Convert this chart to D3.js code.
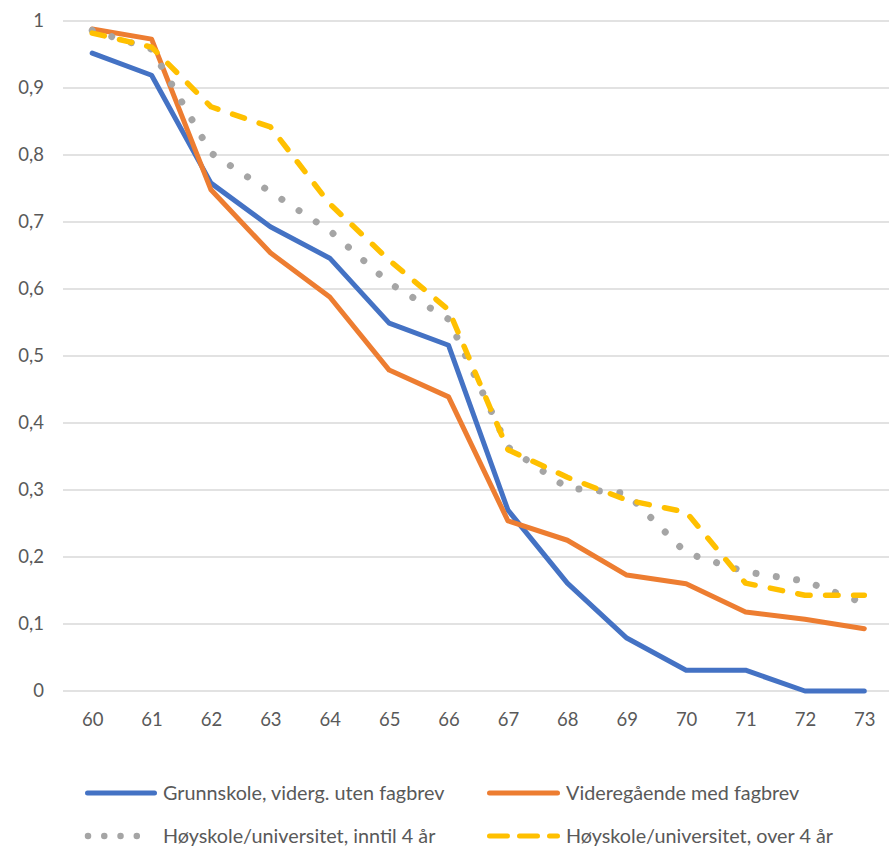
<!DOCTYPE html>
<html><head><meta charset="utf-8">
<script src="https://cdn.jsdelivr.net/npm/d3@7"></script>
<style>body{margin:0;background:#fff}svg{display:block}text{font-family:Lato,"Open Sans",sans-serif;fill:#595959}</style>
</head><body>
<script>
const ages = [60,61,62,63,64,65,66,67,68,69,70,71,72,73];
const yTicks = [0,0.1,0.2,0.3,0.4,0.5,0.6,0.7,0.8,0.9,1];
const seriesNames = ["Grunnskole, viderg. uten fagbrev","Videregående med fagbrev","Høyskole/universitet, inntil 4 år","Høyskole/universitet, over 4 år"];
const grunnskole = [0.952,0.919,0.758,0.693,0.646,0.549,0.516,0.27,0.161,0.079,0.031,0.031,0.0,0.0];
const vgsFagbrev = [0.988,0.973,0.748,0.654,0.588,0.479,0.439,0.254,0.225,0.173,0.160,0.118,0.107,0.093];
const hoyInntil4 = [0.986,0.958,0.803,0.745,0.687,0.609,0.555,0.364,0.303,0.295,0.206,0.178,0.164,0.131];
const hoyOver4 = [0.982,0.961,0.872,0.842,0.727,0.643,0.569,0.360,0.319,0.285,0.267,0.161,0.143,0.143];

const W = 889, H = 846;
const svg = d3.select("body").append("svg").attr("width", W).attr("height", H);
const x = d3.scalePoint().domain(ages).range([62.5, 894]).padding(0.5);
const y = d3.scaleLinear().domain([0, 1]).range([691, 21]);

const fmt = v => v === 0 ? "0" : v === 1 ? "1" : d3.format(".1f")(v).replace(".", ",");
const grid = svg.append("g");
grid.selectAll("line").data(yTicks).join("line")
  .attr("x1", 63).attr("x2", W).attr("y1", d => y(d)).attr("y2", d => y(d))
  .attr("stroke", "#D9D9D9").attr("stroke-width", 1.3);

const yAxis = d3.axisLeft(y).tickValues(yTicks).tickFormat(fmt).tickSize(0).tickPadding(0);
const ga = svg.append("g").attr("transform", "translate(44,0)").call(yAxis);
ga.select(".domain").remove();
ga.selectAll("text").attr("font-size", 18.5).style("font-family", "Lato").attr("fill", "#595959");

const xAxis = d3.axisBottom(x).tickSize(0).tickPadding(0);
const gx = svg.append("g").attr("transform", "translate(0,713)").call(xAxis);
gx.select(".domain").remove();
gx.selectAll("text").attr("font-size", 18.5).style("font-family", "Lato").attr("fill", "#595959").attr("dy", "0.71em");

const styles = [
  {color: "#4472C4", dash: null, width: 5, legDash: null},
  {color: "#ED7D31", dash: null, width: 5, legDash: null},
  {color: "#A5A5A5", dash: "0.01,20.5", width: 7, legDash: "0.01,16.25"},
  {color: "#FFC000", dash: "12.5,15.5", width: 5.5, legDash: "18,12"}
];
const allData = [grunnskole, vgsFagbrev, hoyInntil4, hoyOver4];
const line = d3.line().x((d, i) => x(ages[i])).y(d => y(d));
allData.forEach((data, k) => {
  const s = styles[k];
  svg.append("path").datum(data).attr("d", line)
    .attr("fill", "none").attr("stroke", s.color)
    .attr("stroke-width", s.width)
    .attr("stroke-linejoin", "round").attr("stroke-linecap", "round")
    .attr("stroke-dasharray", s.dash);
});

// legend
const legLine = [[87.5, 154.5, 793], [489.5, 557.5, 793], [88, 153, 836], [489.5, 557.5, 836]];
const legText = [[163, 793], [566, 793], [163, 836], [566, 836]];
seriesNames.forEach((name, k) => {
  const s = styles[k];
  const [x1, x2, ly] = legLine[k];
  const g = svg.append("g");
  g.append("line").attr("x1", x1).attr("x2", x2).attr("y1", ly).attr("y2", ly)
    .attr("stroke", s.color).attr("stroke-width", k === 2 ? 6.5 : 5)
    .attr("stroke-linecap", "round").attr("stroke-dasharray", s.legDash);
  g.append("text").attr("x", legText[k][0]).attr("y", legText[k][1]).attr("dy", "0.35em")
    .attr("font-size", 19.8).text(name);
});
</script>
</body></html>
